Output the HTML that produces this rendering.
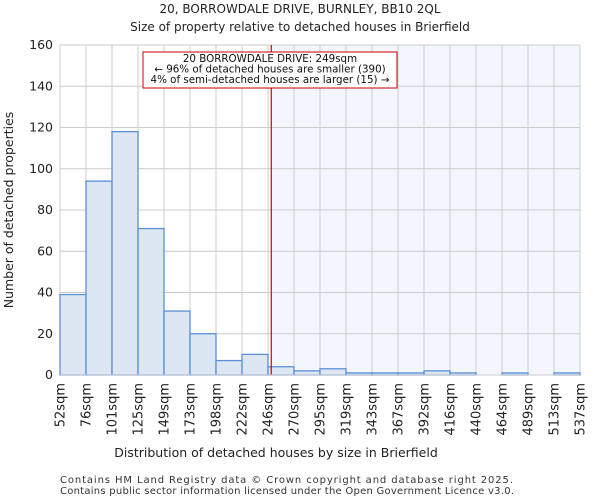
<!DOCTYPE html>
<html><head><meta charset="utf-8"><style>
body{margin:0;background:#fff;font-family:"DejaVu Sans","Liberation Sans",sans-serif;}
</style></head><body>
<svg width="600" height="500" xmlns="http://www.w3.org/2000/svg" font-family="DejaVu Sans, Liberation Sans, sans-serif">
<text x="300" y="13" text-anchor="middle" font-size="12" fill="#222">20, BORROWDALE DRIVE, BURNLEY, BB10 2QL</text>
<text x="300" y="31" text-anchor="middle" font-size="12" fill="#222">Size of property relative to detached houses in Brierfield</text>
<g id="plot"></g>
<text x="276" y="457" text-anchor="middle" font-size="12.5" fill="#222">Distribution of detached houses by size in Brierfield</text>
<text transform="translate(13,210) rotate(-90)" text-anchor="middle" font-size="12.5" fill="#222">Number of detached properties</text>
<text x="60" y="483" font-size="10" fill="#333" textLength="453">Contains HM Land Registry data © Crown copyright and database right 2025.</text>
<text x="60" y="494" font-size="10" fill="#333" textLength="454">Contains public sector information licensed under the Open Government Licence v3.0.</text>
</svg>
<script>
const binLabels=["52sqm","76sqm","101sqm","125sqm","149sqm","173sqm","198sqm","222sqm","246sqm","270sqm","295sqm","319sqm","343sqm","367sqm","392sqm","416sqm","440sqm","464sqm","489sqm","513sqm","537sqm"];
const binEdges=[52,76,101,125,149,173,198,222,246,270,295,319,343,367,392,416,440,464,489,513,537];
const counts=[39,94,118,71,31,20,7,10,4,2,3,1,1,1,2,1,0,1,0,1];
const yTicks=[0,20,40,60,80,100,120,140,160];
const propertySize=249;
const NS="http://www.w3.org/2000/svg";
const L=60,R=580,T=45,B=375,yMax=160;
const nb=counts.length,bw=(R-L)/nb;
const xi=i=>L+i*bw;
function xv(v){let i=0;while(i<binEdges.length-2&&v>binEdges[i+1])i++;return xi(i)+(v-binEdges[i])/(binEdges[i+1]-binEdges[i])*bw;}
const y=v=>B-v/yMax*(B-T);
const g=document.getElementById('plot');
function mk(t,a){const e=document.createElementNS(NS,t);for(const k in a)e.setAttribute(k,a[k]);g.appendChild(e);return e;}
const px=xv(propertySize);
let sh=mk('rect',{x:px,y:T,width:R-px,height:B-T,fill:'#f3f6fd'});


yTicks.forEach(t=>{let l=mk('line',{x1:L,x2:R,y1:y(t),y2:y(t),stroke:'#ccc','stroke-width':1});


let tx=mk('text',{x:L-7,y:y(t)+4,'text-anchor':'end','font-size':12.5,fill:'#222'});tx.textContent=t;

});
binLabels.forEach((s,i)=>{let l=mk('line',{x1:xi(i),x2:xi(i),y1:T,y2:B,stroke:'#ccc','stroke-width':1});


let tx=mk('text',{transform:`translate(${xi(i)+4.5},${B+8}) rotate(-90)`,'text-anchor':'end','font-size':13,fill:'#222'});tx.textContent=s;

});
counts.forEach((c,i)=>{if(c<=0)return;let r=mk('rect',{x:xi(i),y:y(c),width:bw,height:B-y(c),fill:'#dde7f4',stroke:'#5b8fd6','stroke-width':1.3});

});
let rl=mk('line',{x1:px,x2:px,y1:T,y2:B,stroke:'#cc0000','stroke-width':1.2});


let bx=mk('rect',{x:143,y:52,width:254,height:36,fill:'#fff',stroke:'#cc0000','stroke-width':1});


["20 BORROWDALE DRIVE: 249sqm","← 96% of detached houses are smaller (390)","4% of semi-detached houses are larger (15) →"].forEach((s,i)=>{let t=mk('text',{x:270,y:62+i*10.5,'text-anchor':'middle','font-size':10.3,fill:'#111'});t.textContent=s;

});
let ax=mk('line',{x1:L,x2:R,y1:B,y2:B,stroke:'#ccc','stroke-width':1});


</script>
</body></html>
